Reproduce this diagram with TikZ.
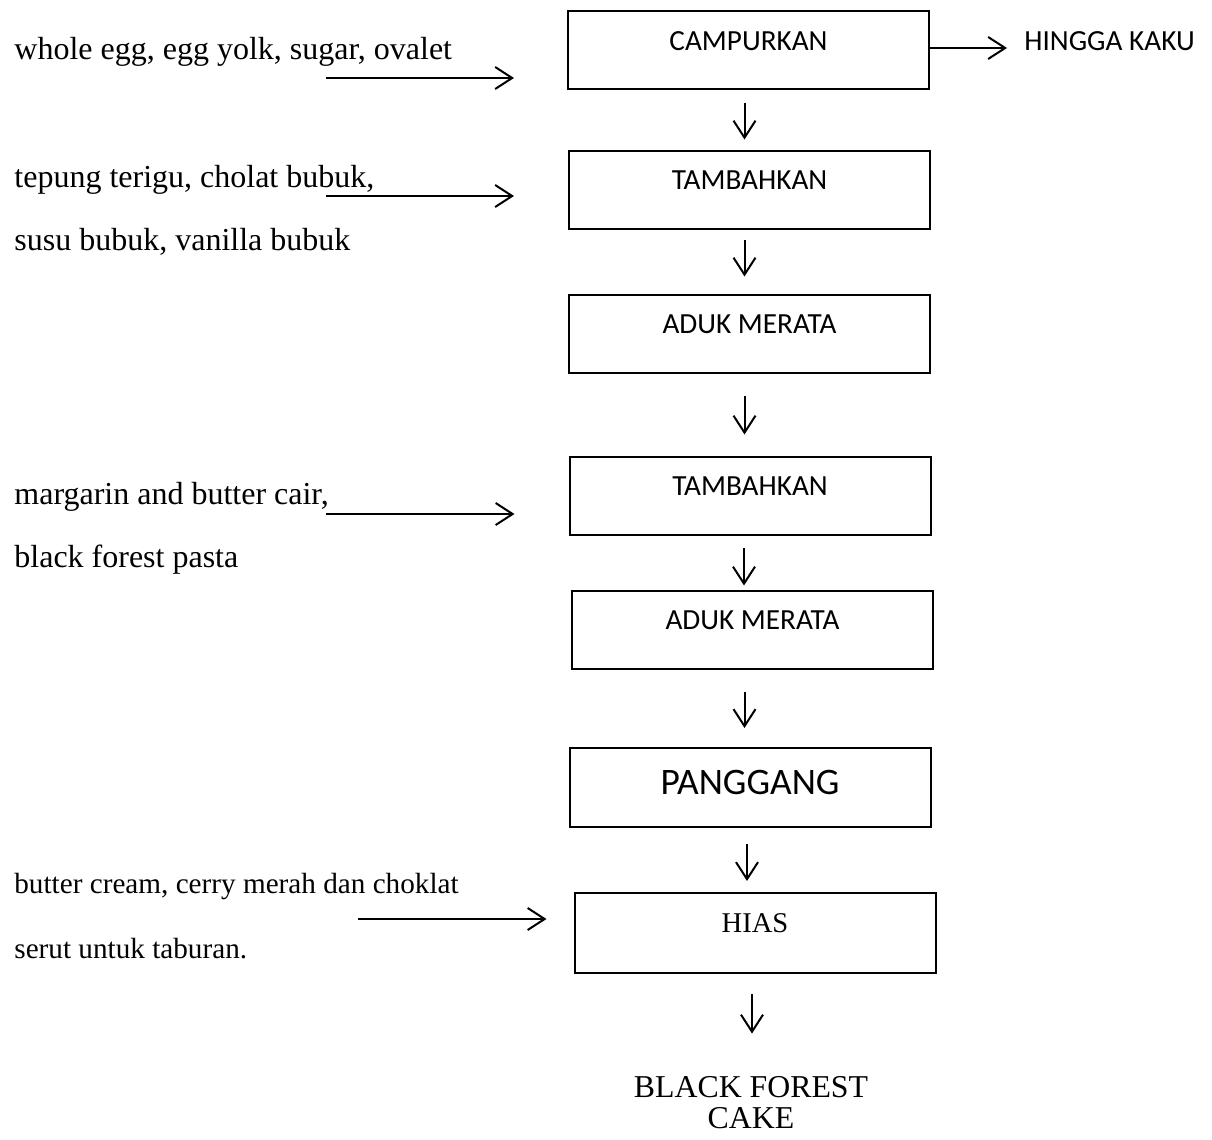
\documentclass[tikz,border=0pt]{standalone}
\usepackage{fontspec}
\setmainfont{Liberation Serif}
\newfontfamily\calibri{Carlito}
\usetikzlibrary{arrows.meta}
\tikzset{
  stepbox/.style={draw, line width=1pt, minimum width=180.5pt, inner sep=0pt,
    text height=19.5pt, text depth=19.5pt, font=\calibri\fontsize{14.6}{17}\selectfont},
  flow/.style={line width=1pt, -{Straight Barb[length=8.5pt,width=11pt]}},
  bahan/.style={anchor=base west, align=left, inner sep=0pt, font=\fontsize{16}{31.5}\selectfont},
}
\begin{document}
\begin{tikzpicture}[x=0.5pt, y=-0.5pt]
\useasboundingbox (0,0) rectangle (1212,1140);
\node[stepbox] (b1) at (748.5,50) {CAMPURKAN};
\node[stepbox] (b2) at (749.5,189.5) {TAMBAHKAN};
\node[stepbox] (b3) at (749.5,333.5) {ADUK MERATA};
\node[stepbox] (b4) at (750,495.5) {TAMBAHKAN};
\node[stepbox] (b5) at (752.5,629.5) {ADUK MERATA};
\node[stepbox, text height=23pt, text depth=16.5pt, font=\calibri\fontsize{18.7}{22}\selectfont] (b6) at (750,787.5) {PANGGANG};
\node[stepbox, text height=19.5pt, text depth=20.5pt, font=\fontsize{14.3}{17}\selectfont] (b7) at (755,933) {HIAS};
\node[align=center, inner sep=0pt, anchor=base, font=\fontsize{15.9}{15.5}\selectfont] (cake) at (751,1128) {BLACK FOREST\\CAKE};
\node[anchor=base west, inner sep=0pt, font=\calibri\fontsize{14.6}{17}\selectfont] (kaku) at (1024,50) {HINGGA KAKU};
\node[bahan] (t1) at (14,60) {whole egg, egg yolk, sugar, ovalet};
\node[bahan] (t2) at (14,250) {tepung terigu, cholat bubuk,\\susu bubuk, vanilla bubuk};
\node[bahan] (t3) at (14,567) {margarin and butter cair,\\black forest pasta};
\node[bahan, font=\fontsize{14.6}{32.5}\selectfont] (t4) at (14,958) {butter cream, cerry merah dan choklat\\serut untuk taburan.};
\coordinate (a1) at (326,78);
\coordinate (a2) at (326,196);
\coordinate (a3) at (326,514);
\coordinate (a4) at (358,919);
\draw[flow] (a1) -- ([xshift=-26.5pt]b1.west |- a1);
\draw[flow] (a2) -- ([xshift=-27pt]b2.west |- a2);
\draw[flow] (a3) -- ([xshift=-27pt]b4.west |- a3);
\draw[flow] (a4) -- ([xshift=-13.5pt]b7.west |- a4);
\draw[flow, shorten >=8.5pt] ([yshift=1pt]b1.east) -- ([yshift=1pt]b1.east -| kaku.west);
\draw[flow, shorten <=6.5pt, shorten >=5pt] ([xshift=-2pt]b1.south) -- ([xshift=-2pt]b1.south |- b2.north);
\draw[flow, shorten <=5pt, shorten >=8.5pt] ([xshift=-2.5pt]b2.south) -- ([xshift=-2.5pt]b2.south |- b3.north);
\draw[flow, shorten <=11pt, shorten >=10.5pt] ([xshift=-2.5pt]b3.south) -- ([xshift=-2.5pt]b3.south |- b4.north);
\draw[flow, shorten <=6pt, shorten >=2pt] ([xshift=-3pt]b4.south) -- ([xshift=-3pt]b4.south |- b5.north);
\draw[flow, shorten <=11pt, shorten >=9.5pt] ([xshift=-4pt]b5.south) -- ([xshift=-4pt]b5.south |- b6.north);
\draw[flow, shorten <=8pt, shorten >=5.5pt] ([xshift=-1.5pt]b6.south) -- ([xshift=-1.5pt]b6.south |- b7.north);
\draw[flow, shorten <=10pt, shorten >=21pt] ([xshift=-1.5pt]b7.south) -- ([xshift=-1.5pt]b7.south |- cake.north);
\end{tikzpicture}
\end{document}
